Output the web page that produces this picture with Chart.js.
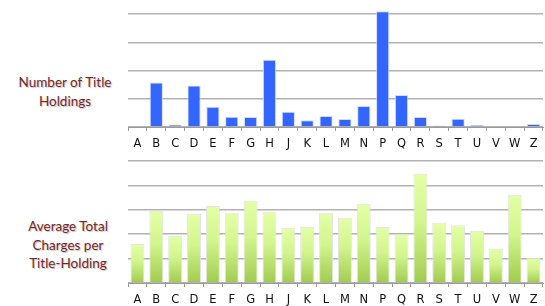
<!DOCTYPE html>
<html><head><meta charset="utf-8">
<script src="https://cdn.jsdelivr.net/npm/chart.js@4"></script>
<style>
html,body{margin:0;padding:0;background:#fff;width:545px;height:306px;overflow:hidden;position:relative}
.wrap{position:absolute;left:0;width:545px}
.lbl{position:absolute;font-family:Lato,"Open Sans",sans-serif;font-size:13.5px;color:#7a2626;text-align:center;line-height:18.5px;text-shadow:1px 1px 1px rgba(0,0,0,0.25);white-space:nowrap}
</style></head><body>
<div class="lbl" style="left:5px;width:120px;top:73px">Number of Title<br>Holdings</div>
<div class="lbl" style="left:8px;width:120px;top:217px">Average Total<br>Charges per<br>Title-Holding</div>
<div class="wrap" style="top:0;height:160px"><canvas id="c1" width="545" height="160"></canvas></div>
<div class="wrap" style="top:150px;height:156px"><canvas id="c2" width="545" height="156"></canvas></div>
<script>
const categories = ["A","B","C","D","E","F","G","H","J","K","L","M","N","P","Q","R","S","T","U","V","W","Z"];
const titleHoldings = [0,1.58,0.08,1.47,0.72,0.36,0.35,2.38,0.54,0.24,0.39,0.28,0.74,4.1,1.13,0.35,0.05,0.29,0.07,0,0,0.11];
const avgCharges = [1.60,2.96,1.93,2.84,3.16,2.88,3.37,2.92,2.26,2.30,2.88,2.67,3.25,2.30,2.01,4.48,2.47,2.37,2.14,1.40,3.62,1.03];
const topGridValues = [0,1,2,3,4];
const bottomGridValues = [0,1,2,3,4,5];

Chart.defaults.animation = false;
Chart.defaults.font.family = "'DejaVu Sans', sans-serif";

function makeOpts(max, gridVals, xHeight, padTop, labelPad){
  return {
    responsive:false,
    events:[],
    layout:{padding:{left:128,right:2,top:padTop,bottom:0}},
    plugins:{legend:{display:false},tooltip:{enabled:false}},
    scales:{
      x:{
        grid:{display:true,drawOnChartArea:false,drawTicks:true,tickLength:4,color:'#9a9a9a',offset:true},
        border:{display:true,color:'#9a9a9a',width:1},
        ticks:{color:'#111',font:{size:11.5},padding:labelPad,maxRotation:0,autoSkip:false},
        afterFit:s=>{s.height=xHeight;}
      },
      y:{
        min:0,max:max,
        grid:{color:'#b2b2b2',lineWidth:1.5,drawTicks:false},
        border:{display:false},
        ticks:{display:false,stepSize:1},
        afterBuildTicks:a=>{a.ticks=gridVals.map(v=>({value:v}));},
        afterFit:s=>{s.width=0;}
      }
    }
  };
}

new Chart(document.getElementById('c1'),{
  type:'bar',
  data:{labels:categories,datasets:[{data:titleHoldings,backgroundColor:'#3366ff',borderColor:'rgba(205,215,255,0.9)',borderWidth:1,categoryPercentage:1,barPercentage:0.7}]},
  options:makeOpts(4.25,topGridValues,33,7,6)
});

function greenGrad(ctx){
  const chart=ctx.chart;
  const y=chart.scales.y;
  if(!y||ctx.dataIndex===undefined) return '#c8ee80';
  const v=ctx.dataset.data[ctx.dataIndex];
  const top=y.getPixelForValue(v), base=y.getPixelForValue(0);
  if(!isFinite(top)||!isFinite(base)||top===base) return '#c8ee80';
  const g=chart.ctx.createLinearGradient(0,top,0,base);
  g.addColorStop(0,'#e4ffa6');
  g.addColorStop(0.45,'#d2f58e');
  g.addColorStop(1,'#a1cb4f');
  return g;
}

new Chart(document.getElementById('c2'),{
  type:'bar',
  data:{labels:categories,datasets:[{data:avgCharges,backgroundColor:greenGrad,borderColor:'rgba(225,225,225,0.9)',borderWidth:1,categoryPercentage:1,barPercentage:0.74}]},
  options:makeOpts(5,bottomGridValues,23,11,6)
});
</script>
</body></html>
